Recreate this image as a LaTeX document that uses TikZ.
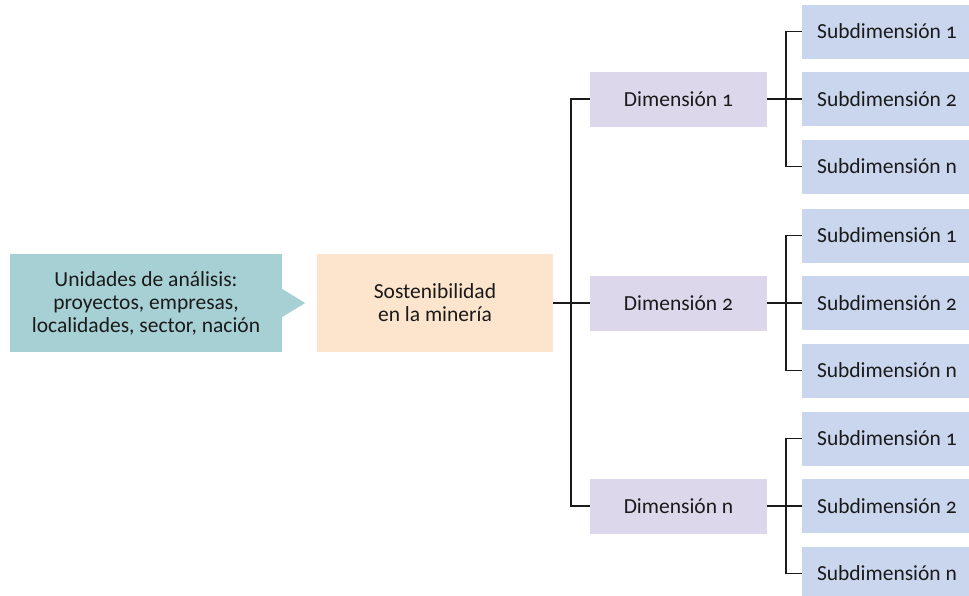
\documentclass[tikz,border=0pt]{standalone}
\usepackage{fontspec}
\setmainfont[Numbers=OldStyle]{Carlito}
\definecolor{unitfill}{HTML}{A7D0D5}
\definecolor{sostfill}{HTML}{FDE5CD}
\definecolor{dimfill}{HTML}{DCD7EB}
\definecolor{subfill}{HTML}{C9D6EE}
\definecolor{ink}{HTML}{1A1A1A}
\begin{document}
\begin{tikzpicture}[x=1pt,y=-1pt,every node/.style={font=\fontsize{21.5}{23}\selectfont,text=ink,align=center,inner sep=0pt},
  dimbox/.style={fill=dimfill,minimum width=177pt,minimum height=55pt},
  subbox/.style={fill=subfill,minimum width=170pt,minimum height=54pt},
  link/.style={draw=ink,line width=1.6pt}]
\useasboundingbox (0,0) rectangle (969,595);
\node[fill=unitfill,minimum width=272pt,minimum height=98pt] (units) at (146,303){Unidades de análisis:\\proyectos, empresas,\\localidades, sector, nación};
\fill[unitfill] ([yshift=14pt]units.east) -- ([xshift=23pt]units.east) -- ([yshift=-14pt]units.east) -- cycle;
\node[fill=sostfill,minimum width=236pt,minimum height=98pt] (sost) at (435,303){Sostenibilidad\\en la minería};
\foreach \g/\y in {1/99,2/303,n/506}{
  \node[dimbox] (dim\g) at (678.5,\y){Dimensión \g};
  \node[subbox] (sub\g a) at (887,\y-67.5){Subdimensión 1};
  \node[subbox] (sub\g b) at (887,\y){Subdimensión 2};
  \node[subbox] (sub\g c) at (887,\y+67.5){Subdimensión n};
  \draw[link] (dim\g.east) -- (sub\g b.west);
  \draw[link] (sub\g a.west) -- ++(-16,0) |- (sub\g c.west);
}
\draw[link] (sost.east) -- (dim2.west);
\draw[link] (dim1.west) -- ++(-19,0) |- (dimn.west);
\end{tikzpicture}
\end{document}
